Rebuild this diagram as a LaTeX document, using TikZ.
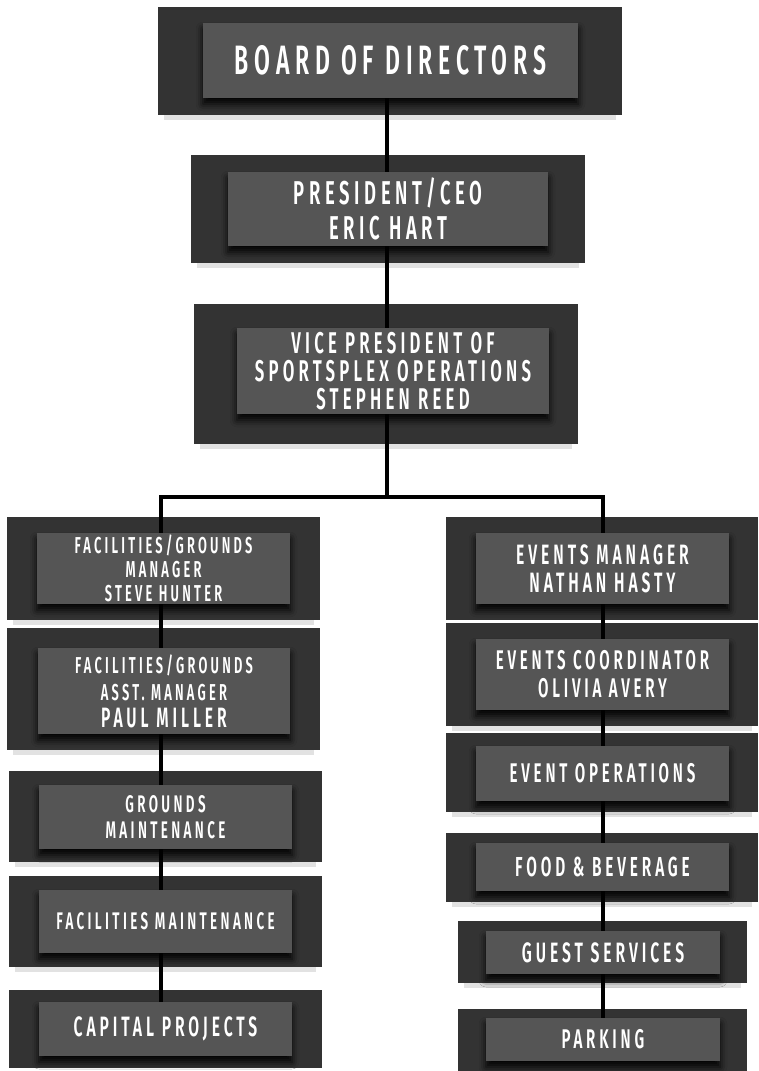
\documentclass[tikz,border=0pt]{standalone}
\usepackage{fontspec}
\setmainfont{Fira Sans}[FakeStretch=0.56,LetterSpace=14,BoldFont={Fira Sans SemiBold}]
\usetikzlibrary{shadows.blur}
\definecolor{outerc}{HTML}{333333}
\definecolor{innerc}{HTML}{555555}
\definecolor{oshadow}{HTML}{E2E2E2}
\newcommand{\fs}[2]{\fontsize{#1}{#2}\selectfont}
\tikzset{
  outerbox/.style={fill=outerc,draw=none,inner sep=0pt},
  innerbox/.style={fill=innerc,draw=none,inner sep=0pt,text=white,align=center,
    blur shadow={shadow xshift=0pt,shadow yshift=-6pt,shadow blur radius=7pt,shadow opacity=95}},
  conn/.style={line width=4.5pt,black,line cap=rect,line join=miter},
}
\begin{document}
\begin{tikzpicture}[x=1pt,y=-1pt]
\fill[white] (0,0) rectangle (758,1071);
\useasboundingbox (0,0) rectangle (758,1071);
% faint shadows under outer boxes
\foreach \cx/\cy/\w/\h in {390/61/464/108, 388/209/394/108, 386/374/384/140,
  163.5/568.5/313/103, 163.5/689/313/122, 165.5/816.5/313/91, 165.5/921.5/313/91,
  602/674.5/312/103, 602/772.5/312/79, 602/867.5/312/69, 602.5/952/289/62}
  \fill[oshadow] (\cx-\w/2+6,\cy+\h/2) rectangle (\cx+\w/2-6,\cy+\h/2+5);
% outer boxes
\node[outerbox,minimum width=464,minimum height=108] (oboard) at (390,61) {};
\node[outerbox,minimum width=394,minimum height=108] (opres) at (388,209) {};
\node[outerbox,minimum width=384,minimum height=140] (ovp) at (386,374) {};
\node[outerbox,minimum width=313,minimum height=103] (ol1) at (163.5,568.5) {};
\node[outerbox,minimum width=313,minimum height=122] (ol2) at (163.5,689) {};
\node[outerbox,minimum width=313,minimum height=91] (ol3) at (165.5,816.5) {};
\node[outerbox,minimum width=313,minimum height=91] (ol4) at (165.5,921.5) {};
\node[outerbox,minimum width=313,minimum height=78] (ol5) at (165.5,1029) {};
\node[outerbox,minimum width=312,minimum height=103] (or1) at (602,568.5) {};
\node[outerbox,minimum width=312,minimum height=103] (or2) at (602,674.5) {};
\node[outerbox,minimum width=312,minimum height=79] (or3) at (602,772.5) {};
\node[outerbox,minimum width=312,minimum height=69] (or4) at (602,867.5) {};
\node[outerbox,minimum width=289,minimum height=62] (or5) at (602.5,952) {};
\node[outerbox,minimum width=289,minimum height=62] (or6) at (602.5,1040) {};
% connectors (under the inner boxes)
\coordinate (spine) at (387,0);
\coordinate (bl) at (161,497);
\coordinate (br) at (603,497);
\draw[conn] (spine |- oboard) -- (spine |- bl);
\draw[conn] (bl) -- (br);
\draw[conn] (bl) -- (bl |- ol5);
\draw[conn] (br) -- (br |- or6);
% inner boxes
\node[innerbox,minimum width=375,minimum height=75,font=\bfseries\fs{41}{44}] (board) at (390.5,60.5) {BOARD OF DIRECTORS};
\node[innerbox,minimum width=320,minimum height=74,font=\bfseries\fs{33}{35}] (pres) at (388,209) {PRESIDENT/CEO\\ERIC HART};
\node[innerbox,minimum width=312,minimum height=86,font=\bfseries\fs{30}{28}] (vp) at (393,371) {VICE PRESIDENT OF\\SPORTSPLEX OPERATIONS\\STEPHEN REED};
\node[innerbox,minimum width=253,minimum height=71,font=\bfseries\fs{23}{24}] (l1) at (163.5,568.5) {FACILITIES/GROUNDS\\MANAGER\\STEVE HUNTER};
\node[innerbox,minimum width=252,minimum height=86,font=\bfseries\fs{23}{27}] (l2) at (164,691) {FACILITIES/GROUNDS\\ASST. MANAGER\\\fs{28}{27}PAUL MILLER};
\node[innerbox,minimum width=253,minimum height=64,font=\bfseries\fs{24}{26}] (l3) at (165.5,817) {GROUNDS\\MAINTENANCE};
\node[innerbox,minimum width=253,minimum height=63,font=\bfseries\fs{24}{25}] (l4) at (165.5,921.5) {FACILITIES MAINTENANCE};
\node[innerbox,minimum width=253,minimum height=54,font=\bfseries\fs{28}{28}] (l5) at (165.5,1029) {CAPITAL PROJECTS};
\node[innerbox,minimum width=253,minimum height=71,font=\bfseries\fs{28}{28}] (r1) at (602.5,568.5) {EVENTS MANAGER\\NATHAN HASTY};
\node[innerbox,minimum width=253,minimum height=71,font=\bfseries\fs{27}{28}] (r2) at (602.5,674.5) {EVENTS COORDINATOR\\OLIVIA AVERY};
\node[innerbox,minimum width=253,minimum height=55,font=\bfseries\fs{27}{28}] (r3) at (602.5,773.5) {EVENT OPERATIONS};
\node[innerbox,minimum width=253,minimum height=48,font=\bfseries\fs{27.5}{28}] (r4) at (602.5,867) {FOOD \& BEVERAGE};
\node[innerbox,minimum width=234,minimum height=43,font=\bfseries\fs{28}{28}] (r5) at (603,952.5) {GUEST SERVICES};
\node[innerbox,minimum width=234,minimum height=43,font=\bfseries\fs{27}{28}] (r6) at (603,1039.5) {PARKING};
\end{tikzpicture}
\end{document}
